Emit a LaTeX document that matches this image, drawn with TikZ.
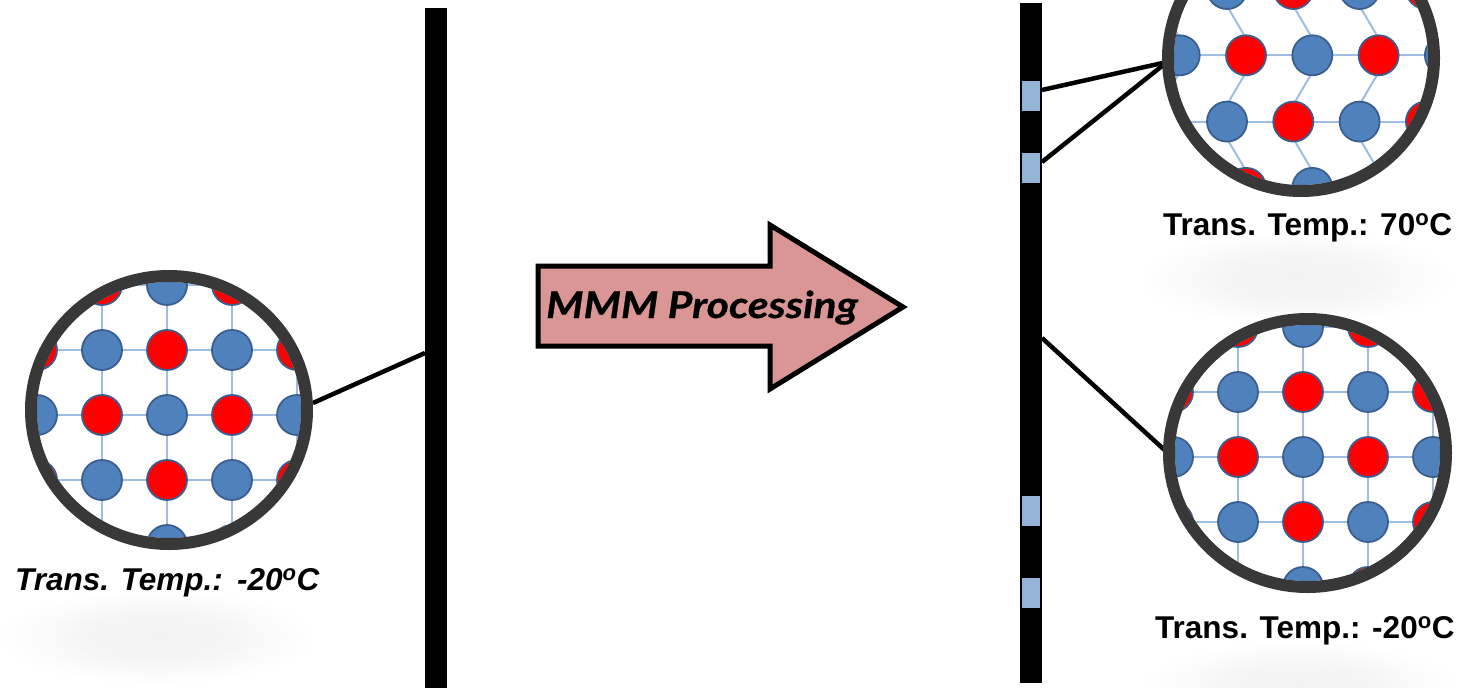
\documentclass[tikz,border=0pt]{standalone}
\usepackage{fontspec}
\setmainfont{Liberation Sans}
\newfontfamily\arrowfont{Lato}[FakeStretch=1.15,FakeBold=0.8]
\definecolor{atomblue}{HTML}{4F81BD}
\definecolor{atomedge}{HTML}{3A5F8F}
\definecolor{atomred}{HTML}{FF0000}
\definecolor{gridblue}{HTML}{9DBDE3}
\definecolor{ringgray}{HTML}{383838}
\definecolor{arrowfill}{HTML}{D99694}
\definecolor{padblue}{HTML}{95B3D7}
\pgfdeclareradialshading{softshadow}{\pgfpoint{0bp}{0bp}}{color(0bp)=(black!5); color(12bp)=(black!4); color(19bp)=(black!1.5); color(25bp)=(white); color(50bp)=(white)}

\newcommand{\sqlattice}[2]{%
  \foreach \i in {-3,...,3}{%
    \draw[gridline] ({#1+65*\i},{#2-220}) -- ({#1+65*\i},{#2+220});
    \draw[gridline] ({#1-220},{#2+65*\i}) -- ({#1+220},{#2+65*\i});
  }%
  \foreach \i in {-3,...,3}{\foreach \j in {-3,...,3}{%
    \ifodd\numexpr\i+\j\relax\def\acol{atomred}\else\def\acol{atomblue}\fi
    \filldraw[atom, fill=\acol] ({#1+65*\i},{#2+65*\j}) circle[radius=20pt];
  }}%
}
\newcommand{\zzlattice}[3]{%
  \foreach \r in {-1,...,4}{%
    \draw[gridline] ({#1-260},{#2+66.3*\r}) -- ({#1+320},{#2+66.3*\r});
  }%
  \foreach \r in {-1,...,3}{\foreach \k in {-3,...,4}{%
    \ifodd\numexpr\r\relax \def\zoff{#3}\def\zdx{-#3}\else \def\zoff{0}\def\zdx{#3}\fi
    \draw[gridline] ({#1+66.3*\k+\zoff},{#2+66.3*\r+17}) -- ({#1+66.3*\k+\zoff+\zdx},{#2+66.3*(\r+1)-17});
  }}%
  \foreach \r in {-1,...,4}{\foreach \k in {-3,...,4}{%
    \ifodd\numexpr\r\relax \def\zoff{#3}\else \def\zoff{0}\fi
    \ifodd\numexpr\r+\k\relax\def\acol{atomred}\else\def\acol{atomblue}\fi
    \filldraw[atom, fill=\acol] ({#1+66.3*\k+\zoff},{#2+66.3*\r}) circle[radius=20pt];
  }}%
}

\begin{document}
\begin{tikzpicture}[x=1pt,y=-1pt,
  gridline/.style={draw=gridblue, line width=2pt},
  atom/.style={draw=atomedge, line width=1.8pt},
  ring/.style={draw=ringgray, line width=12pt},
  conn/.style={draw=black, line width=4.5pt},
  bar/.style={fill=black, inner sep=0pt, minimum width=22pt, anchor=north west},
  pad/.style={fill=padblue, inner sep=0pt, minimum width=18pt, minimum height=30pt},
  lbl/.style={inner sep=0pt, anchor=base west, font=\fontsize{31.5}{36}\selectfont\bfseries},
  arrowbody/.style={fill=arrowfill, draw=black, line width=5pt, line join=miter}]
\useasboundingbox (0,0) rectangle (1481,688);

% shadows
\shade[shading=softshadow] (157,637) ellipse [x radius=160pt, y radius=48pt];
\shade[shading=softshadow] (1297,278) ellipse [x radius=160pt, y radius=48pt];
\shade[shading=softshadow] (1300,688) ellipse [x radius=160pt, y radius=48pt];

% bars and pads
\node[bar, minimum height=700pt] (barL) at (425,8) {};
\node[bar, minimum height=680pt] (barR) at (1020,3) {};
\node[pad] (pad1) at (1031,96) {};
\node[pad] (pad2) at (1031,168) {};
\node[pad] (pad3) at (1031,511) {};
\node[pad] (pad4) at (1031,593) {};

% connector end points
\coordinate (magLe) at (313,403);
\coordinate (barLw) at (425,353);
\coordinate (pad1e) at (1042,90);
\coordinate (pad2e) at (1042,162);
\coordinate (magUw) at (1167,62);
\coordinate (barRe) at (1042,338);
\coordinate (magDw) at (1170,455);

\draw[conn] (magLe) -- (barLw);
\draw[conn] (pad1e) -- (magUw);
\draw[conn] (pad2e) -- (magUw);
\draw[conn] (barRe) -- (magDw);

% left magnifier
\begin{scope}
  \clip (169,410) ellipse [x radius=132pt, y radius=128pt];
  \fill[white] (0,200) rectangle (400,600);
  \sqlattice{167}{415}
\end{scope}
\draw[ring] (169,410) ellipse [x radius=138pt, y radius=134pt];

% upper right magnifier
\begin{scope}
  \clip (1301,58) ellipse [x radius=127pt, y radius=127pt];
  \zzlattice{1227}{-11}{19}
\end{scope}
\draw[ring] (1301,58) ellipse [x radius=133pt, y radius=133pt];

% lower right magnifier
\begin{scope}
  \clip (1307.5,453) ellipse [x radius=132.5pt, y radius=128pt];
  \sqlattice{1303}{457}
\end{scope}
\draw[ring] (1307.5,453) ellipse [x radius=138.5pt, y radius=134pt];

% labels
\node[lbl, font=\fontsize{31.5}{36}\selectfont\bfseries\itshape] (lblL) at (15,590) {Trans. Temp.:\hspace{0.45em}-20\textsuperscript{o}C};
\node[lbl] (lblU) at (1163,235) {Trans. Temp.: 70\textsuperscript{o}C};
\node[lbl] (lblD) at (1155,638) {Trans. Temp.: -20\textsuperscript{o}C};

% processing arrow
\draw[arrowbody] (538,266) -- (770,266) -- (770,225) -- (903,307) -- (770,389) -- (770,346) -- (538,346) -- cycle;
\node[inner sep=0pt, anchor=base, font=\arrowfont\fontsize{37}{42}\selectfont\bfseries\itshape] (proc) at (702,318) {MMM Processing};
\end{tikzpicture}
\end{document}
